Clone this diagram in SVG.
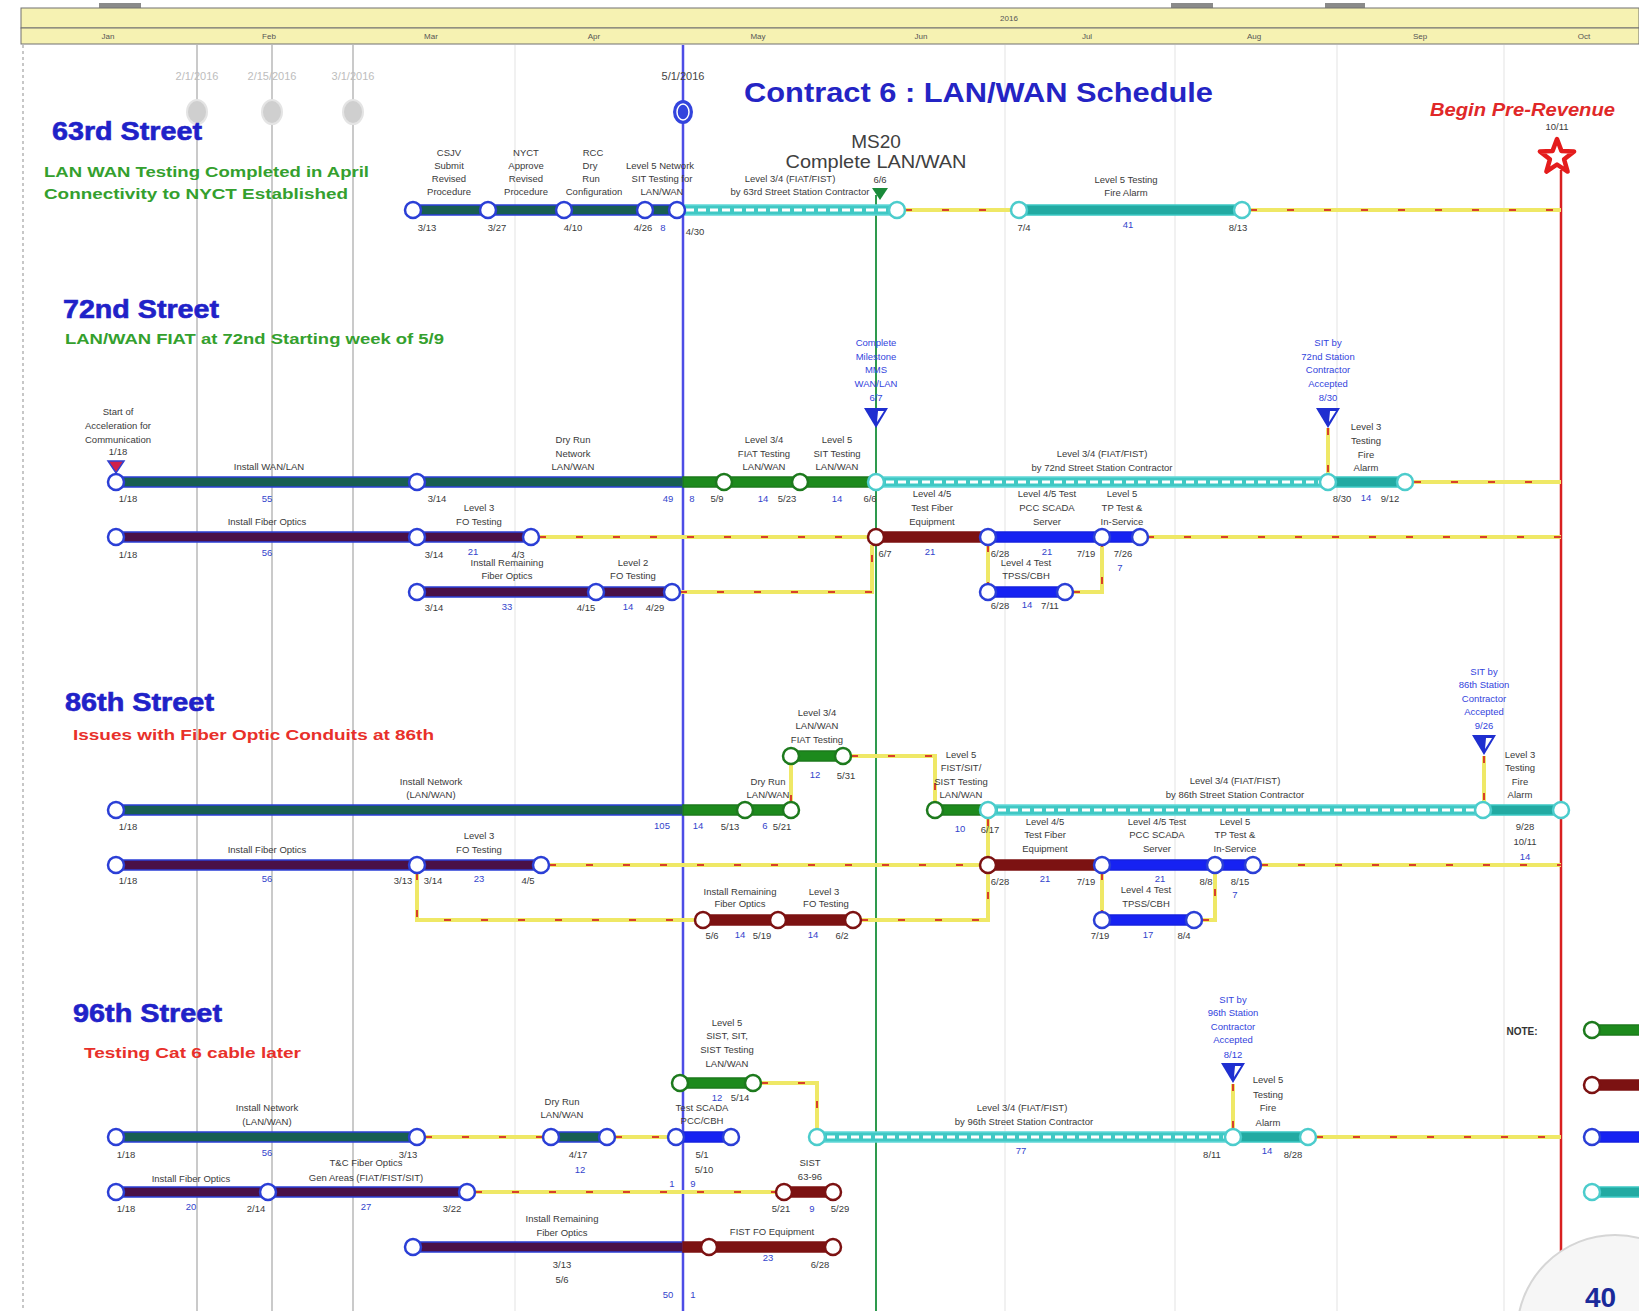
<svg xmlns="http://www.w3.org/2000/svg" width="1639" height="1311" viewBox="0 0 1639 1311">
<defs>
<style>
.t{font-family:"Liberation Sans",Arial,sans-serif;font-size:9.5px;fill:#3a3a3a;text-anchor:middle}
.n{font-family:"Liberation Sans",Arial,sans-serif;font-size:9.5px;fill:#3344cc;text-anchor:middle}
.m{font-family:"Liberation Sans",Arial,sans-serif;font-size:9.5px;fill:#3344dd;text-anchor:middle}
.h{font-family:"Liberation Sans",Arial,sans-serif;font-weight:bold;font-size:25px;fill:#1f22c8;stroke:#1f22c8;stroke-width:0.6}
.sg{font-family:"Liberation Sans",Arial,sans-serif;font-weight:bold;font-size:15px;fill:#34a02e}
.sr{font-family:"Liberation Sans",Arial,sans-serif;font-weight:bold;font-size:15px;fill:#e8302a}
.mo{font-family:"Liberation Sans",Arial,sans-serif;font-size:8px;fill:#555;text-anchor:middle}
.gd{font-family:"Liberation Sans",Arial,sans-serif;font-size:11px;fill:#bdbdbd;text-anchor:middle}
.cy{fill:none;stroke:#efe866;stroke-width:4}
.cr{fill:none;stroke:#d8402a;stroke-width:2;stroke-dasharray:7 30}
.teal{fill:#185e52;stroke:#2b3fd6;stroke-width:1.5}
.grn{fill:#1d8a1d;stroke:#1d7a1d;stroke-width:1.5}
.pur{fill:#4a1048;stroke:#2b3fd6;stroke-width:1.5}
.red{fill:#7c1212;stroke:#7c1212;stroke-width:1.5}
.blu{fill:#1622f2;stroke:#1622e0;stroke-width:1.5}
.cyn{fill:#40c8c4;stroke:#62d8d8;stroke-width:1.5}
.cys{fill:#22aaa2;stroke:#3cc8c4;stroke-width:1.5}
.dash{stroke:#ffffff;stroke-width:3;stroke-dasharray:8 4;fill:none}
.cb{fill:#fff;stroke:#2b3fd6;stroke-width:2.5}
.cg{fill:#fff;stroke:#1d7a1d;stroke-width:2.5}
.cR{fill:#fff;stroke:#7c1212;stroke-width:2.5}
.cc{fill:#fff;stroke:#4ccccc;stroke-width:2.5}
</style>
<g id="tri"><path d="M-12,0 L12,0 L0,20 Z" fill="#1f2fd0"/><path d="M2,3 L8,3 L1,14 Z" fill="#fff"/></g>
</defs>
<rect x="0" y="0" width="1639" height="1311" fill="#ffffff"/>

<g id="grid">
<line x1="23" y1="45" x2="23" y2="1311" stroke="#b5b5b5" stroke-width="1.5" stroke-dasharray="3 3"/>
<g stroke="#ececec" stroke-width="1.5">
<line x1="515" y1="45" x2="515" y2="1311"/><line x1="1005" y1="45" x2="1005" y2="1311"/><line x1="1175" y1="45" x2="1175" y2="1311"/><line x1="1337" y1="45" x2="1337" y2="1311"/><line x1="1504" y1="45" x2="1504" y2="1311"/>
</g>
<g stroke="#cacaca" stroke-width="2">
<line x1="197" y1="45" x2="197" y2="1311"/><line x1="272" y1="45" x2="272" y2="1311"/><line x1="353" y1="45" x2="353" y2="1311"/>
</g>
<line x1="683" y1="45" x2="683" y2="1311" stroke="#4d4de6" stroke-width="2.5"/>
<line x1="876" y1="195" x2="876" y2="1311" stroke="#2e9a4e" stroke-width="2"/>
<line x1="1561" y1="170" x2="1561" y2="1311" stroke="#d82020" stroke-width="2.5"/>
</g>

<g id="timescale">
<rect x="99" y="3" width="42" height="6" fill="#8a8a8a"/><rect x="1171" y="3" width="42" height="6" fill="#8a8a8a"/><rect x="1325" y="3" width="40" height="6" fill="#8a8a8a"/>
<rect x="21" y="8" width="1618" height="20" fill="#f6f2b2" stroke="#707070"/>
<rect x="21" y="28" width="1618" height="16" fill="#f6f2b2" stroke="#707070"/>
<text class="mo" x="1009" y="21">2016</text>
<text class="mo" x="108" y="39">Jan</text><text class="mo" x="269" y="39">Feb</text><text class="mo" x="431" y="39">Mar</text><text class="mo" x="594" y="39">Apr</text><text class="mo" x="758" y="39">May</text><text class="mo" x="921" y="39">Jun</text><text class="mo" x="1087" y="39">Jul</text><text class="mo" x="1254" y="39">Aug</text><text class="mo" x="1420" y="39">Sep</text><text class="mo" x="1584" y="39">Oct</text>
</g>

<g id="status-dates">
<text class="gd" x="197" y="80">2/1/2016</text><text class="gd" x="272" y="80">2/15/2016</text><text class="gd" x="353" y="80">3/1/2016</text>
<ellipse cx="197" cy="112" rx="10" ry="12" fill="#cfcfcf" stroke="#e4e4e4" stroke-width="2"/>
<ellipse cx="272" cy="112" rx="10" ry="12" fill="#cfcfcf" stroke="#e4e4e4" stroke-width="2"/>
<ellipse cx="353" cy="112" rx="10" ry="12" fill="#cfcfcf" stroke="#e4e4e4" stroke-width="2"/>
<text x="683" y="80" font-family="Liberation Sans, Arial, sans-serif" font-size="11" fill="#444" text-anchor="middle">5/1/2016</text>
<ellipse cx="683" cy="112" rx="10" ry="12" fill="#3344dd"/>
<ellipse cx="683" cy="112" rx="6" ry="8" fill="none" stroke="#fff" stroke-width="1.5"/>
</g>

<g id="title">
<text x="744" y="102" font-family="Liberation Sans, Arial, sans-serif" font-weight="bold" font-size="27" fill="#2424c4" textLength="469" lengthAdjust="spacingAndGlyphs">Contract 6 : LAN/WAN Schedule</text>
</g>

<g id="pre-revenue">
<text x="1430" y="116" font-family="Liberation Sans, Arial, sans-serif" font-weight="bold" font-style="italic" font-size="18" fill="#e02828" textLength="185" lengthAdjust="spacingAndGlyphs">Begin Pre-Revenue</text>
<text class="t" x="1557" y="130" font-size="7">10/11</text>
<path transform="translate(1557,157)" d="M0,-18 L4.4,-6.1 L17.1,-5.6 L7.1,2.3 L10.6,14.6 L0,7.5 L-10.6,14.6 L-7.1,2.3 L-17.1,-5.6 L-4.4,-6.1 Z" fill="#fff" stroke="#e41c1c" stroke-width="4.5" stroke-linejoin="round"/>
</g>

<g id="connectors">
<g class="cy">
<path d="M905,210 H1011"/><path d="M1250,210 H1561"/>
<path d="M1414,482 H1561"/><path d="M1328,428 V474"/><path d="M539,537 H868"/><path d="M1147,537 H1561"/><path d="M988,545 V584"/><path d="M1073,592 H1102 V545"/><path d="M680,592 H872 V545"/>
<path d="M851,756 H935 V802"/><path d="M791,802 V764"/><path d="M1484,756 V802"/><path d="M549,865 H980"/><path d="M1261,865 H1561"/><path d="M988,819 V857"/><path d="M417,873 V920 H695"/><path d="M861,920 H988 V873"/><path d="M1102,873 V912"/><path d="M1202,920 H1215 V873"/>
<path d="M761,1083 H817 V1129"/><path d="M1233,1084 V1129"/><path d="M425,1137 H543"/><path d="M615,1137 H668"/><path d="M1316,1137 H1561"/><path d="M475,1192 H776"/>
</g>
<g class="cr">
<path d="M905,210 H1011"/><path d="M1250,210 H1561"/>
<path d="M1414,482 H1561"/><path d="M1328,428 V474"/><path d="M539,537 H868"/><path d="M1147,537 H1561"/><path d="M988,545 V584"/><path d="M1073,592 H1102 V545"/><path d="M680,592 H872 V545"/>
<path d="M851,756 H935 V802"/><path d="M791,802 V764"/><path d="M1484,756 V802"/><path d="M549,865 H980"/><path d="M1261,865 H1561"/><path d="M988,819 V857"/><path d="M417,873 V920 H695"/><path d="M861,920 H988 V873"/><path d="M1102,873 V912"/><path d="M1202,920 H1215 V873"/>
<path d="M761,1083 H817 V1129"/><path d="M1233,1084 V1129"/><path d="M425,1137 H543"/><path d="M615,1137 H668"/><path d="M1316,1137 H1561"/><path d="M475,1192 H776"/>
</g>
</g>

<!-- 63rd Street -->
<g id="s63-head">
<text class="h" x="52" y="140" textLength="150" lengthAdjust="spacingAndGlyphs">63rd Street</text>
<text class="sg" x="44" y="177" textLength="325" lengthAdjust="spacingAndGlyphs">LAN WAN Testing Completed in April</text>
<text class="sg" x="44" y="199" textLength="304" lengthAdjust="spacingAndGlyphs">Connectivity to NYCT Established</text>
</g>
<g id="s63-csjv">
<rect class="teal" x="413" y="205" width="75" height="10"/><circle class="cb" cx="413" cy="210" r="8"/>
<text class="t" x="449" y="156"><tspan x="449">CSJV</tspan><tspan x="449" dy="13">Submit</tspan><tspan x="449" dy="13">Revised</tspan><tspan x="449" dy="13">Procedure</tspan></text>
<text class="t" x="427" y="231">3/13</text>
</g>
<g id="s63-nyct">
<rect class="teal" x="488" y="205" width="76" height="10"/><circle class="cb" cx="488" cy="210" r="8"/>
<text class="t" x="526" y="156"><tspan x="526">NYCT</tspan><tspan x="526" dy="13">Approve</tspan><tspan x="526" dy="13">Revised</tspan><tspan x="526" dy="13">Procedure</tspan></text>
<text class="t" x="497" y="231">3/27</text>
</g>
<g id="s63-rcc">
<rect class="teal" x="564" y="205" width="81" height="10"/><circle class="cb" cx="564" cy="210" r="8"/>
<text class="t" x="593" y="156"><tspan x="593">RCC</tspan><tspan x="590" dy="13">Dry</tspan><tspan x="591" dy="13">Run</tspan><tspan x="594" dy="13">Configuration</tspan></text>
<text class="t" x="573" y="231">4/10</text>
</g>
<g id="s63-l5">
<rect class="teal" x="645" y="205" width="32" height="10"/><circle class="cb" cx="645" cy="210" r="8"/>
<text class="t" x="660" y="169"><tspan x="660">Level 5 Network</tspan><tspan x="662" dy="13">SIT Testing for</tspan><tspan x="662" dy="13">LAN/WAN</tspan></text>
<text class="t" x="643" y="231">4/26</text><text class="n" x="663" y="231">8</text><text class="t" x="695" y="235">4/30</text>
</g>
<g id="s63-l34">
<rect class="cyn" x="677" y="205" width="220" height="10"/><line class="dash" x1="686" y1="210" x2="890" y2="210"/>
<circle class="cb" cx="677" cy="210" r="8"/><circle class="cc" cx="897" cy="210" r="8"/>
<text class="t" x="790" y="182">Level 3/4 (FIAT/FIST)</text>
<text class="t" x="800" y="195">by 63rd Street Station Contractor</text>
</g>
<g id="s63-ms20">
<text x="876" y="148" font-family="Liberation Sans, Arial, sans-serif" font-size="19" fill="#404040" text-anchor="middle">MS20</text>
<text x="876" y="168" font-family="Liberation Sans, Arial, sans-serif" font-size="19" fill="#404040" text-anchor="middle" textLength="181" lengthAdjust="spacingAndGlyphs">Complete LAN/WAN</text>
<text class="t" x="880" y="183">6/6</text>
<path d="M872,188 L888,188 L880,200 Z" fill="#1a8a3a"/>
</g>
<g id="s63-l5fire">
<rect class="cys" x="1019" y="205" width="223" height="10"/><circle class="cc" cx="1019" cy="210" r="8"/><circle class="cc" cx="1242" cy="210" r="8"/>
<text class="t" x="1126" y="183"><tspan x="1126">Level 5 Testing</tspan><tspan x="1126" dy="13">Fire Alarm</tspan></text>
<text class="t" x="1024" y="231">7/4</text><text class="n" x="1128" y="228">41</text><text class="t" x="1238" y="231">8/13</text>
</g>

<!-- 72nd Street -->
<g id="s72-head">
<text class="h" x="63" y="318" textLength="156" lengthAdjust="spacingAndGlyphs">72nd Street</text>
<text class="sg" x="65" y="344" textLength="379" lengthAdjust="spacingAndGlyphs">LAN/WAN FIAT at 72nd Starting week of 5/9</text>
</g>
<g id="s72-start">
<text class="t" x="118" y="415"><tspan x="118">Start of</tspan><tspan x="118" dy="14">Acceleration for</tspan><tspan x="118" dy="14">Communication</tspan><tspan x="118" dy="12">1/18</tspan></text>
<path d="M108,461 L124,461 L116,473 Z" fill="#d0204a" stroke="#3040d0" stroke-width="1.5"/>
</g>
<g id="s72-install">
<rect class="teal" x="116" y="477" width="301" height="10"/><circle class="cb" cx="116" cy="482" r="8"/>
<text class="t" x="269" y="470">Install WAN/LAN</text>
<text class="t" x="128" y="502">1/18</text><text class="n" x="267" y="502">55</text>
</g>
<g id="s72-dryrun">
<rect class="teal" x="417" y="477" width="266" height="10"/><rect class="grn" x="683" y="477" width="41" height="10"/><circle class="cb" cx="417" cy="482" r="8"/>
<text class="t" x="573" y="443"><tspan x="573">Dry Run</tspan><tspan x="573" dy="14">Network</tspan><tspan x="573" dy="13">LAN/WAN</tspan></text>
<text class="t" x="437" y="502">3/14</text><text class="n" x="668" y="502">49</text><text class="n" x="692" y="502">8</text>
</g>
<g id="s72-fiat">
<rect class="grn" x="724" y="477" width="76" height="10"/><circle class="cg" cx="724" cy="482" r="8"/>
<text class="t" x="764" y="443"><tspan x="764">Level 3/4</tspan><tspan x="764" dy="14">FIAT Testing</tspan><tspan x="764" dy="13">LAN/WAN</tspan></text>
<text class="t" x="717" y="502">5/9</text><text class="n" x="763" y="502">14</text>
</g>
<g id="s72-sit">
<rect class="grn" x="800" y="477" width="76" height="10"/><circle class="cg" cx="800" cy="482" r="8"/>
<text class="t" x="837" y="443"><tspan x="837">Level 5</tspan><tspan x="837" dy="14">SIT Testing</tspan><tspan x="837" dy="13">LAN/WAN</tspan></text>
<text class="t" x="787" y="502">5/23</text><text class="n" x="837" y="502">14</text><text class="t" x="870" y="502">6/6</text>
</g>
<g id="s72-ms-complete">
<text class="m" x="876" y="346"><tspan x="876">Complete</tspan><tspan x="876" dy="14">Milestone</tspan><tspan x="876" dy="13">MMS</tspan><tspan x="876" dy="14">WAN/LAN</tspan><tspan x="876" dy="14">6/7</tspan></text>
<use href="#tri" x="876" y="408"/>
</g>
<g id="s72-l34">
<rect class="cyn" x="876" y="477" width="452" height="10"/><line class="dash" x1="886" y1="482" x2="1320" y2="482"/><circle class="cc" cx="876" cy="482" r="8"/>
<text class="t" x="1102" y="457"><tspan x="1102">Level 3/4 (FIAT/FIST)</tspan><tspan x="1102" dy="14">by 72nd Street Station Contractor</tspan></text>
</g>
<g id="s72-ms-sit">
<text class="m" x="1328" y="346"><tspan x="1328">SIT by</tspan><tspan x="1328" dy="14">72nd Station</tspan><tspan x="1328" dy="13">Contractor</tspan><tspan x="1328" dy="14">Accepted</tspan><tspan x="1328" dy="14">8/30</tspan></text>
<use href="#tri" x="1328" y="408"/>
</g>
<g id="s72-fire">
<rect class="cys" x="1328" y="477" width="77" height="10"/><circle class="cc" cx="1328" cy="482" r="8"/><circle class="cc" cx="1405" cy="482" r="8"/>
<text class="t" x="1366" y="430"><tspan x="1366">Level 3</tspan><tspan x="1366" dy="14">Testing</tspan><tspan x="1366" dy="14">Fire</tspan><tspan x="1366" dy="13">Alarm</tspan></text>
<text class="t" x="1342" y="502">8/30</text><text class="n" x="1366" y="501">14</text><text class="t" x="1390" y="502">9/12</text>
</g>
<g id="s72-fiber">
<rect class="pur" x="116" y="532" width="301" height="10"/><circle class="cb" cx="116" cy="537" r="8"/>
<text class="t" x="267" y="525">Install Fiber Optics</text>
<text class="t" x="128" y="558">1/18</text><text class="n" x="267" y="556">56</text>
</g>
<g id="s72-fo3">
<rect class="pur" x="417" y="532" width="114" height="10"/><circle class="cb" cx="417" cy="537" r="8"/><circle class="cb" cx="531" cy="537" r="8"/>
<text class="t" x="479" y="511"><tspan x="479">Level 3</tspan><tspan x="479" dy="14">FO Testing</tspan></text>
<text class="t" x="434" y="558">3/14</text><text class="n" x="473" y="555">21</text><text class="t" x="518" y="558">4/3</text>
</g>
<g id="s72-l45fiber">
<rect class="red" x="876" y="532" width="112" height="10"/><circle class="cR" cx="876" cy="537" r="8"/>
<text class="t" x="932" y="497"><tspan x="932">Level 4/5</tspan><tspan x="932" dy="14">Test Fiber</tspan><tspan x="932" dy="14">Equipment</tspan></text>
<text class="t" x="885" y="557">6/7</text><text class="n" x="930" y="555">21</text>
</g>
<g id="s72-pcc">
<rect class="blu" x="988" y="532" width="114" height="10"/><circle class="cb" cx="988" cy="537" r="8"/>
<text class="t" x="1047" y="497"><tspan x="1047">Level 4/5 Test</tspan><tspan x="1047" dy="14">PCC SCADA</tspan><tspan x="1047" dy="14">Server</tspan></text>
<text class="t" x="1000" y="557">6/28</text><text class="n" x="1047" y="555">21</text>
</g>
<g id="s72-tp">
<rect class="blu" x="1102" y="532" width="38" height="10"/><circle class="cb" cx="1102" cy="537" r="8"/><circle class="cb" cx="1140" cy="537" r="8"/>
<text class="t" x="1122" y="497"><tspan x="1122">Level 5</tspan><tspan x="1122" dy="14">TP Test &amp;</tspan><tspan x="1122" dy="14">In-Service</tspan></text>
<text class="t" x="1086" y="557">7/19</text><text class="t" x="1123" y="557">7/26</text><text class="n" x="1120" y="571">7</text>
</g>
<g id="s72-tpss">
<rect class="blu" x="988" y="587" width="77" height="10"/><circle class="cb" cx="988" cy="592" r="8"/><circle class="cb" cx="1065" cy="592" r="8"/>
<text class="t" x="1026" y="566"><tspan x="1026">Level 4 Test</tspan><tspan x="1026" dy="13">TPSS/CBH</tspan></text>
<text class="t" x="1000" y="609">6/28</text><text class="n" x="1027" y="608">14</text><text class="t" x="1050" y="609">7/11</text>
</g>
<g id="s72-remaining">
<rect class="pur" x="417" y="587" width="179" height="10"/><circle class="cb" cx="417" cy="592" r="8"/>
<text class="t" x="507" y="566"><tspan x="507">Install Remaining</tspan><tspan x="507" dy="13">Fiber Optics</tspan></text>
<text class="t" x="434" y="611">3/14</text><text class="n" x="507" y="610">33</text>
</g>
<g id="s72-fo2">
<rect class="pur" x="596" y="587" width="76" height="10"/><circle class="cb" cx="596" cy="592" r="8"/><circle class="cb" cx="672" cy="592" r="8"/>
<text class="t" x="633" y="566"><tspan x="633">Level 2</tspan><tspan x="633" dy="13">FO Testing</tspan></text>
<text class="t" x="586" y="611">4/15</text><text class="n" x="628" y="610">14</text><text class="t" x="655" y="611">4/29</text>
</g>

<!-- 86th Street -->
<g id="s86-head">
<text class="h" x="65" y="711" textLength="149" lengthAdjust="spacingAndGlyphs">86th Street</text>
<text class="sr" x="73" y="740" textLength="361" lengthAdjust="spacingAndGlyphs">Issues with Fiber Optic Conduits at 86th</text>
</g>
<g id="s86-network">
<rect class="teal" x="116" y="805" width="567" height="10"/><rect class="grn" x="683" y="805" width="62" height="10"/><circle class="cb" cx="116" cy="810" r="8"/>
<text class="t" x="431" y="785"><tspan x="431">Install Network</tspan><tspan x="431" dy="13">(LAN/WAN)</tspan></text>
<text class="t" x="128" y="830">1/18</text><text class="n" x="662" y="829">105</text><text class="n" x="698" y="829">14</text><text class="t" x="730" y="830">5/13</text>
</g>
<g id="s86-dryrun">
<rect class="grn" x="745" y="805" width="46" height="10"/><circle class="cg" cx="745" cy="810" r="8"/><circle class="cg" cx="791" cy="810" r="8"/>
<text class="t" x="768" y="785"><tspan x="768">Dry Run</tspan><tspan x="768" dy="13">LAN/WAN</tspan></text>
<text class="n" x="765" y="829">6</text><text class="t" x="782" y="830">5/21</text>
</g>
<g id="s86-fiat">
<rect class="grn" x="791" y="751" width="52" height="10"/><circle class="cg" cx="791" cy="756" r="8"/><circle class="cg" cx="843" cy="756" r="8"/>
<text class="t" x="817" y="716"><tspan x="817">Level 3/4</tspan><tspan x="817" dy="13">LAN/WAN</tspan><tspan x="817" dy="14">FIAT Testing</tspan></text>
<text class="n" x="815" y="778">12</text><text class="t" x="846" y="779">5/31</text>
</g>
<g id="s86-sist">
<rect class="grn" x="935" y="805" width="53" height="10"/><circle class="cg" cx="935" cy="810" r="8"/>
<text class="t" x="961" y="758"><tspan x="961">Level 5</tspan><tspan x="961" dy="13">FIST/SIT/</tspan><tspan x="961" dy="14">SIST Testing</tspan><tspan x="961" dy="13">LAN/WAN</tspan></text>
<text class="n" x="960" y="832">10</text><text class="t" x="990" y="833">6/17</text>
</g>
<g id="s86-l34">
<rect class="cyn" x="988" y="805" width="495" height="10"/><line class="dash" x1="998" y1="810" x2="1475" y2="810"/><circle class="cc" cx="988" cy="810" r="8"/>
<text class="t" x="1235" y="784"><tspan x="1235">Level 3/4 (FIAT/FIST)</tspan><tspan x="1235" dy="14">by 86th Street Station Contractor</tspan></text>
</g>
<g id="s86-ms-sit">
<text class="m" x="1484" y="675"><tspan x="1484">SIT by</tspan><tspan x="1484" dy="13">86th Station</tspan><tspan x="1484" dy="14">Contractor</tspan><tspan x="1484" dy="13">Accepted</tspan><tspan x="1484" dy="14">9/26</tspan></text>
<use href="#tri" x="1484" y="735"/>
</g>
<g id="s86-fire">
<rect class="cys" x="1483" y="805" width="78" height="10"/><circle class="cc" cx="1483" cy="810" r="8"/><circle class="cc" cx="1561" cy="810" r="8"/>
<text class="t" x="1520" y="758"><tspan x="1520">Level 3</tspan><tspan x="1520" dy="13">Testing</tspan><tspan x="1520" dy="14">Fire</tspan><tspan x="1520" dy="13">Alarm</tspan></text>
<text class="t" x="1525" y="830"><tspan x="1525">9/28</tspan><tspan x="1525" dy="15">10/11</tspan></text><text class="n" x="1525" y="860">14</text>
</g>
<g id="s86-fiber">
<rect class="pur" x="116" y="860" width="301" height="10"/><circle class="cb" cx="116" cy="865" r="8"/>
<text class="t" x="267" y="853">Install Fiber Optics</text>
<text class="t" x="128" y="884">1/18</text><text class="n" x="267" y="882">56</text><text class="t" x="403" y="884">3/13</text>
</g>
<g id="s86-fo3">
<rect class="pur" x="417" y="860" width="124" height="10"/><circle class="cb" cx="417" cy="865" r="8"/><circle class="cb" cx="541" cy="865" r="8"/>
<text class="t" x="479" y="839"><tspan x="479">Level 3</tspan><tspan x="479" dy="14">FO Testing</tspan></text>
<text class="t" x="433" y="884">3/14</text><text class="n" x="479" y="882">23</text><text class="t" x="528" y="884">4/5</text>
</g>
<g id="s86-l45fiber">
<rect class="red" x="988" y="860" width="114" height="10"/><circle class="cR" cx="988" cy="865" r="8"/>
<text class="t" x="1045" y="825"><tspan x="1045">Level 4/5</tspan><tspan x="1045" dy="13">Test Fiber</tspan><tspan x="1045" dy="14">Equipment</tspan></text>
<text class="t" x="1000" y="885">6/28</text><text class="n" x="1045" y="882">21</text>
</g>
<g id="s86-pcc">
<rect class="blu" x="1102" y="860" width="113" height="10"/><circle class="cb" cx="1102" cy="865" r="8"/>
<text class="t" x="1157" y="825"><tspan x="1157">Level 4/5 Test</tspan><tspan x="1157" dy="13">PCC SCADA</tspan><tspan x="1157" dy="14">Server</tspan></text>
<text class="t" x="1086" y="885">7/19</text><text class="n" x="1160" y="882">21</text>
</g>
<g id="s86-tp">
<rect class="blu" x="1215" y="860" width="38" height="10"/><circle class="cb" cx="1215" cy="865" r="8"/><circle class="cb" cx="1253" cy="865" r="8"/>
<text class="t" x="1235" y="825"><tspan x="1235">Level 5</tspan><tspan x="1235" dy="13">TP Test &amp;</tspan><tspan x="1235" dy="14">In-Service</tspan></text>
<text class="t" x="1206" y="885">8/8</text><text class="t" x="1240" y="885">8/15</text><text class="n" x="1235" y="898">7</text>
</g>
<g id="s86-remaining">
<rect class="red" x="703" y="915" width="75" height="10"/><circle class="cR" cx="703" cy="920" r="8"/>
<text class="t" x="740" y="895"><tspan x="740">Install Remaining</tspan><tspan x="740" dy="12">Fiber Optics</tspan></text>
<text class="t" x="712" y="939">5/6</text><text class="n" x="740" y="938">14</text><text class="t" x="762" y="939">5/19</text>
</g>
<g id="s86-fo3b">
<rect class="red" x="778" y="915" width="75" height="10"/><circle class="cR" cx="778" cy="920" r="8"/><circle class="cR" cx="853" cy="920" r="8"/>
<text class="t" x="824" y="895"><tspan x="824">Level 3</tspan><tspan x="826" dy="12">FO Testing</tspan></text>
<text class="n" x="813" y="938">14</text><text class="t" x="842" y="939">6/2</text>
</g>
<g id="s86-tpss">
<rect class="blu" x="1102" y="915" width="92" height="10"/><circle class="cb" cx="1102" cy="920" r="8"/><circle class="cb" cx="1194" cy="920" r="8"/>
<text class="t" x="1146" y="893"><tspan x="1146">Level 4 Test</tspan><tspan x="1146" dy="14">TPSS/CBH</tspan></text>
<text class="t" x="1100" y="939">7/19</text><text class="n" x="1148" y="938">17</text><text class="t" x="1184" y="939">8/4</text>
</g>

<!-- 96th Street -->
<g id="s96-head">
<text class="h" x="73" y="1022" textLength="149" lengthAdjust="spacingAndGlyphs">96th Street</text>
<text class="sr" x="84" y="1058" textLength="217" lengthAdjust="spacingAndGlyphs">Testing Cat 6 cable later</text>
</g>
<g id="s96-sist">
<rect class="grn" x="680" y="1078" width="73" height="10"/><circle class="cg" cx="680" cy="1083" r="8"/><circle class="cg" cx="753" cy="1083" r="8"/>
<text class="t" x="727" y="1026"><tspan x="727">Level 5</tspan><tspan x="727" dy="13">SIST, SIT,</tspan><tspan x="727" dy="14">SIST Testing</tspan><tspan x="727" dy="14">LAN/WAN</tspan></text>
<text class="n" x="717" y="1101">12</text><text class="t" x="740" y="1101">5/14</text>
</g>
<g id="s96-network">
<rect class="teal" x="116" y="1132" width="301" height="10"/><circle class="cb" cx="116" cy="1137" r="8"/><circle class="cb" cx="417" cy="1137" r="8"/>
<text class="t" x="267" y="1111"><tspan x="267">Install Network</tspan><tspan x="267" dy="14">(LAN/WAN)</tspan></text>
<text class="t" x="126" y="1158">1/18</text><text class="n" x="267" y="1156">56</text><text class="t" x="408" y="1158">3/13</text>
</g>
<g id="s96-dryrun">
<rect class="teal" x="551" y="1132" width="56" height="10"/><circle class="cb" cx="551" cy="1137" r="8"/><circle class="cb" cx="607" cy="1137" r="8"/>
<text class="t" x="562" y="1105"><tspan x="562">Dry Run</tspan><tspan x="562" dy="13">LAN/WAN</tspan></text>
<text class="t" x="578" y="1158">4/17</text><text class="n" x="580" y="1173">12</text>
</g>
<g id="s96-scada">
<rect class="blu" x="676" y="1132" width="55" height="10"/><circle class="cb" cx="676" cy="1137" r="8"/><circle class="cb" cx="731" cy="1137" r="8"/>
<text class="t" x="702" y="1111"><tspan x="702">Test SCADA</tspan><tspan x="702" dy="13">PCC/CBH</tspan></text>
<text class="t" x="702" y="1158">5/1</text><text class="t" x="704" y="1173">5/10</text>
</g>
<g id="s96-l34">
<rect class="cyn" x="817" y="1132" width="416" height="10"/><line class="dash" x1="827" y1="1137" x2="1225" y2="1137"/><circle class="cc" cx="817" cy="1137" r="8"/>
<text class="t" x="1022" y="1111"><tspan x="1022">Level 3/4 (FIAT/FIST)</tspan><tspan x="1024" dy="14">by 96th Street Station Contractor</tspan></text>
<text class="n" x="1021" y="1154">77</text>
</g>
<g id="s96-ms-sit">
<text class="m" x="1233" y="1003"><tspan x="1233">SIT by</tspan><tspan x="1233" dy="13">96th Station</tspan><tspan x="1233" dy="14">Contractor</tspan><tspan x="1233" dy="13">Accepted</tspan><tspan x="1233" dy="15">8/12</tspan></text>
<use href="#tri" x="1233" y="1063"/>
</g>
<g id="s96-fire">
<rect class="cys" x="1233" y="1132" width="75" height="10"/><circle class="cc" cx="1233" cy="1137" r="8"/><circle class="cc" cx="1308" cy="1137" r="8"/>
<text class="t" x="1268" y="1083"><tspan x="1268">Level 5</tspan><tspan x="1268" dy="15">Testing</tspan><tspan x="1268" dy="13">Fire</tspan><tspan x="1268" dy="15">Alarm</tspan></text>
<text class="t" x="1212" y="1158">8/11</text><text class="n" x="1267" y="1154">14</text><text class="t" x="1293" y="1158">8/28</text>
</g>
<g id="s96-fiber">
<rect class="pur" x="116" y="1187" width="152" height="10"/><circle class="cb" cx="116" cy="1192" r="8"/>
<text class="t" x="191" y="1182">Install Fiber Optics</text>
<text class="t" x="126" y="1212">1/18</text><text class="n" x="191" y="1210">20</text>
</g>
<g id="s96-tc">
<rect class="pur" x="268" y="1187" width="199" height="10"/><circle class="cb" cx="268" cy="1192" r="8"/><circle class="cb" cx="467" cy="1192" r="8"/>
<text class="t" x="366" y="1166"><tspan x="366">T&amp;C Fiber Optics</tspan><tspan x="366" dy="15">Gen Areas (FIAT/FIST/SIT)</tspan></text>
<text class="t" x="256" y="1212">2/14</text><text class="n" x="366" y="1210">27</text><text class="t" x="452" y="1212">3/22</text>
<text class="n" x="672" y="1187">1</text><text class="n" x="693" y="1187">9</text>
</g>
<g id="s96-sist6396">
<rect class="red" x="784" y="1187" width="49" height="10"/><circle class="cR" cx="784" cy="1192" r="8"/><circle class="cR" cx="833" cy="1192" r="8"/>
<text class="t" x="810" y="1166"><tspan x="810">SIST</tspan><tspan x="810" dy="14">63-96</tspan></text>
<text class="t" x="781" y="1212">5/21</text><text class="n" x="812" y="1212">9</text><text class="t" x="840" y="1212">5/29</text>
</g>
<g id="s96-remaining">
<rect class="pur" x="413" y="1242" width="270" height="10"/><rect class="red" x="683" y="1242" width="26" height="10"/><circle class="cb" cx="413" cy="1247" r="8"/>
<text class="t" x="562" y="1222"><tspan x="562">Install Remaining</tspan><tspan x="562" dy="14">Fiber Optics</tspan></text>
<text class="t" x="562" y="1268"><tspan x="562">3/13</tspan><tspan x="562" dy="15">5/6</tspan></text>
<text class="n" x="668" y="1298">50</text><text class="n" x="693" y="1298">1</text>
</g>
<g id="s96-fofist">
<rect class="red" x="709" y="1242" width="124" height="10"/><circle class="cR" cx="709" cy="1247" r="8"/><circle class="cR" cx="833" cy="1247" r="8"/>
<text class="t" x="772" y="1235">FIST FO Equipment</text>
<text class="n" x="768" y="1261">23</text><text class="t" x="820" y="1268">6/28</text>
</g>

<g id="legend">
<text x="1522" y="1035" font-family="Liberation Sans, Arial, sans-serif" font-weight="bold" font-size="10" fill="#333" text-anchor="middle">NOTE:</text>
<rect class="grn" x="1592" y="1025" width="50" height="10"/><circle class="cg" cx="1592" cy="1030" r="8"/>
<rect class="red" x="1592" y="1080" width="50" height="10"/><circle class="cR" cx="1592" cy="1085" r="8"/>
<rect class="blu" x="1592" y="1132" width="50" height="10"/><circle class="cb" cx="1592" cy="1137" r="8"/>
<rect class="cys" x="1592" y="1187" width="50" height="10"/><circle class="cc" cx="1592" cy="1192" r="8"/>
</g>

<g id="page-number">
<circle cx="1615" cy="1333" r="98" fill="#f6f6f6" stroke="#d6d6d6" stroke-width="2"/>
<text x="1585" y="1307" font-family="Liberation Sans, Arial, sans-serif" font-weight="bold" font-size="28" fill="#1a2a9a">40</text>
</g>
</svg>
